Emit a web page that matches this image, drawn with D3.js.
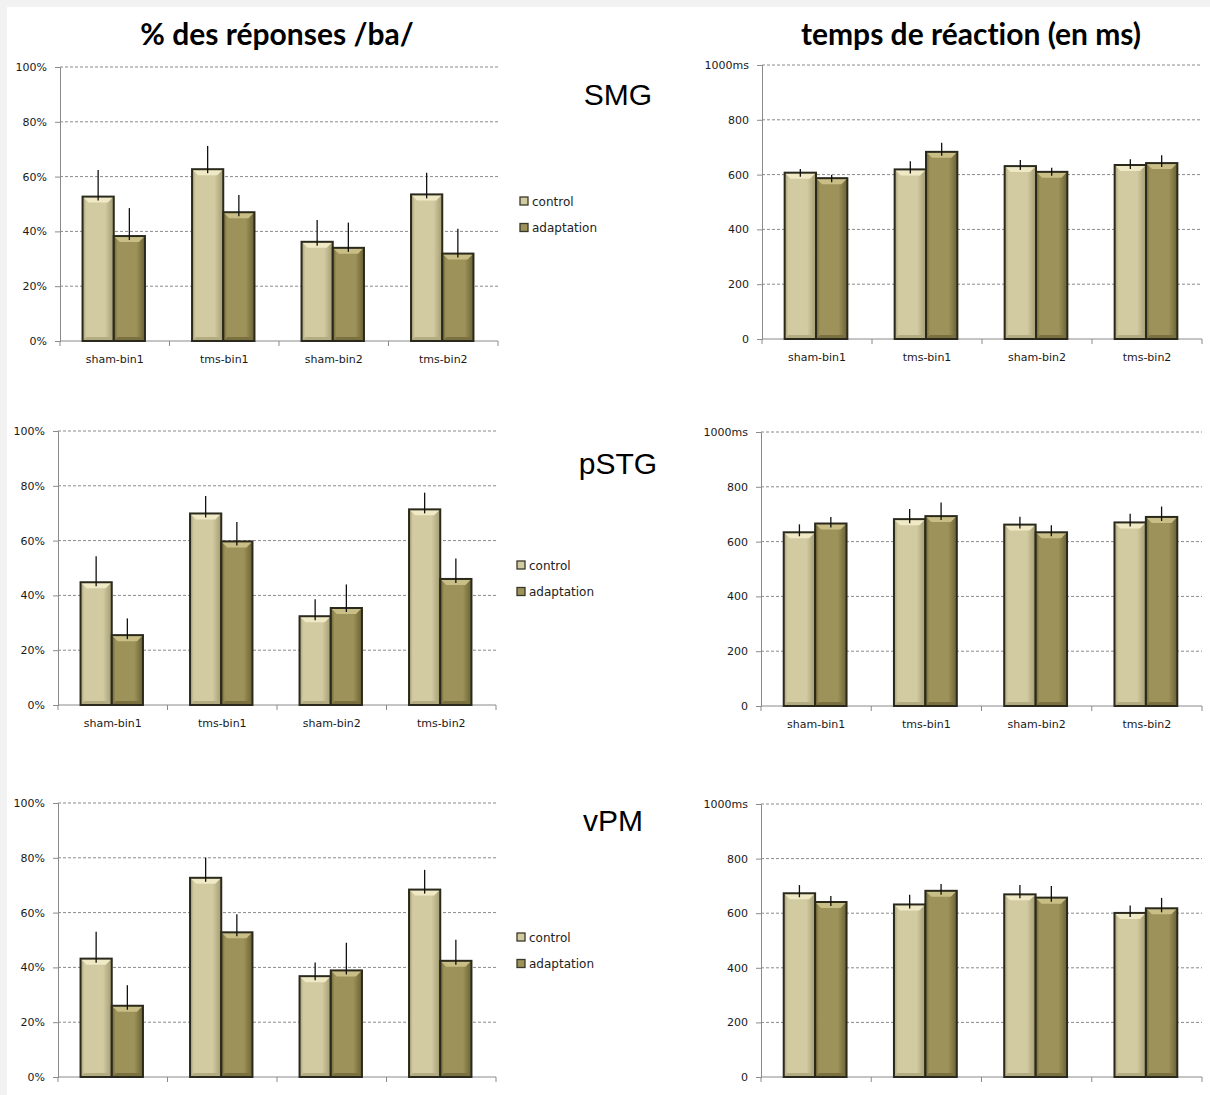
<!DOCTYPE html>
<html lang="fr">
<head>
<meta charset="UTF-8">
<title>TMS</title>
<script src="https://d3js.org/d3.v7.min.js"></script>
<style>
  html, body { margin: 0; padding: 0; background: #fff; }
  svg { display: block; }
</style>
</head>
<body>
<div id="chart"></div>
<script>
// categories and series
const categories = ["sham-bin1", "tms-bin1", "sham-bin2", "tms-bin2"];
const seriesNames = ["control", "adaptation"];
const regions = ["SMG", "pSTG", "vPM"];

// % des réponses /ba/ (value, error bar length)
const smgPctControl = [52.7, 62.7, 36.2, 53.5];
const smgPctControlErr = [9.7, 8.5, 8.0, 7.9];
const smgPctAdapt = [38.3, 47.0, 34.0, 31.9];
const smgPctAdaptErr = [10.2, 6.3, 9.2, 9.1];

const pstgPctControl = [44.8, 69.9, 32.4, 71.4];
const pstgPctControlErr = [9.5, 6.4, 6.2, 6.1];
const pstgPctAdapt = [25.5, 59.7, 35.4, 46.0];
const pstgPctAdaptErr = [6.1, 7.1, 8.6, 7.5];

const vpmPctControl = [43.2, 72.7, 36.8, 68.4];
const vpmPctControlErr = [9.8, 7.4, 5.0, 7.2];
const vpmPctAdapt = [26.0, 52.8, 38.9, 42.4];
const vpmPctAdaptErr = [7.5, 6.6, 10.1, 7.7];

// temps de réaction (ms)
const smgMsControl = [607, 619, 631, 635];
const smgMsControlErr = [13, 30, 22, 21];
const smgMsAdapt = [587, 683, 610, 642];
const smgMsAdaptErr = [12, 33, 15, 29];

const pstgMsControl = [634, 682, 662, 670];
const pstgMsControlErr = [29, 37, 29, 32];
const pstgMsAdapt = [666, 693, 634, 690];
const pstgMsAdaptErr = [24, 50, 26, 38];

const vpmMsControl = [673, 632, 669, 601];
const vpmMsControlErr = [30, 36, 34, 27];
const vpmMsAdapt = [641, 682, 657, 618];
const vpmMsAdaptErr = [22, 25, 43, 38];

const pctTicks = [0, 20, 40, 60, 80, 100];
const msTicks = [0, 200, 400, 600, 800, 1000];

const W = 1210, H = 1095;
const svg = d3.select("#chart").append("svg").attr("width", W).attr("height", H);

// light grey frame on top / left
svg.append("rect").attr("x", 0).attr("y", 0).attr("width", W).attr("height", H).attr("fill", "#f2f2f2");
svg.append("rect").attr("x", 7).attr("y", 7).attr("width", W - 7).attr("height", H - 7).attr("fill", "#fff");

const defs = svg.append("defs");
const colors = {
  control: { light: "#efe9c6", main: "#d2caa0", dark: "#a39b72", bottom: "#b3ab82" },
  adaptation: { light: "#c9be85", main: "#9d9259", dark: "#6a6234", bottom: "#7a7040" }
};
seriesNames.forEach(s => {
  const c = colors[s];
  const g = defs.append("linearGradient").attr("id", "grad-" + s)
    .attr("x1", "0%").attr("y1", "0%").attr("x2", "100%").attr("y2", "0%");
  g.append("stop").attr("offset", "0%").attr("stop-color", c.dark);
  g.append("stop").attr("offset", "12%").attr("stop-color", c.main);
  g.append("stop").attr("offset", "72%").attr("stop-color", c.main);
  g.append("stop").attr("offset", "100%").attr("stop-color", c.dark);
});

// titles
svg.append("text").attr("x", 277).attr("y", 45).attr("text-anchor", "middle")
  .attr("font-family", "Lato, 'Open Sans', sans-serif").attr("font-weight", "bold")
  .attr("font-size", 30).style("font-variant-ligatures", "none")
  .attr("fill", "#000").text("% des réponses /ba/");
svg.append("text").attr("x", 971).attr("y", 45).attr("text-anchor", "middle")
  .attr("font-family", "Lato, 'Open Sans', sans-serif").attr("font-weight", "bold")
  .attr("font-size", 30).style("font-variant-ligatures", "none")
  .attr("fill", "#000").text("temps de réaction (en ms)");

const panels = [
  { left: 60, right: 498, top: 67, bottom: 341, ticks: pctTicks, fmt: d => d + "%", max: 100,
    ctrl: smgPctControl, ctrlErr: smgPctControlErr, adapt: smgPctAdapt, adaptErr: smgPctAdaptErr,
    labels: true, legend: [520, 201], region: [618, 105] },
  { left: 762, right: 1202, top: 65, bottom: 339, ticks: msTicks, fmt: d => d === 1000 ? "1000ms" : d, max: 1000,
    ctrl: smgMsControl, ctrlErr: smgMsControlErr, adapt: smgMsAdapt, adaptErr: smgMsAdaptErr,
    labels: true },
  { left: 58, right: 496, top: 431, bottom: 705, ticks: pctTicks, fmt: d => d + "%", max: 100,
    ctrl: pstgPctControl, ctrlErr: pstgPctControlErr, adapt: pstgPctAdapt, adaptErr: pstgPctAdaptErr,
    labels: true, legend: [517, 565], region: [618, 474] },
  { left: 761, right: 1202, top: 432, bottom: 706, ticks: msTicks, fmt: d => d === 1000 ? "1000ms" : d, max: 1000,
    ctrl: pstgMsControl, ctrlErr: pstgMsControlErr, adapt: pstgMsAdapt, adaptErr: pstgMsAdaptErr,
    labels: true },
  { left: 58, right: 496, top: 803, bottom: 1077, ticks: pctTicks, fmt: d => d + "%", max: 100,
    ctrl: vpmPctControl, ctrlErr: vpmPctControlErr, adapt: vpmPctAdapt, adaptErr: vpmPctAdaptErr,
    labels: false, legend: [517, 937], region: [613, 831] },
  { left: 761, right: 1202, top: 804, bottom: 1077, ticks: msTicks, fmt: d => d === 1000 ? "1000ms" : d, max: 1000,
    ctrl: vpmMsControl, ctrlErr: vpmMsControlErr, adapt: vpmMsAdapt, adaptErr: vpmMsAdaptErr,
    labels: false }
];

const regionLabels = [regions[0], null, regions[1], null, regions[2], null];

panels.forEach((p, pi) => {
  const g = svg.append("g");
  const x0 = d3.scaleBand().domain(categories).range([p.left, p.right]);
  const groupW = x0.bandwidth() * 0.57;
  const x1 = d3.scaleBand().domain(seriesNames).range([0, groupW]);
  const y = d3.scaleLinear().domain([0, p.max]).range([p.bottom, p.top]);

  // dashed grid
  g.selectAll(".grid").data(p.ticks.filter(t => t > 0)).enter().append("line")
    .attr("x1", p.left).attr("x2", p.right)
    .attr("y1", d => y(d)).attr("y2", d => y(d))
    .attr("stroke", "#8a8a8a").attr("stroke-width", 1).attr("stroke-dasharray", "3,2");

  // y axis
  const yAxis = g.append("g").attr("transform", "translate(" + p.left + ",0)")
    .call(d3.axisLeft(y).tickValues(p.ticks).tickFormat(p.fmt).tickSize(5).tickPadding(8));
  yAxis.select(".domain").attr("stroke", "#8a8a8a");
  yAxis.selectAll(".tick line").attr("stroke", "#8a8a8a");
  yAxis.selectAll("text").attr("font-family", "'DejaVu Sans', Verdana, sans-serif")
    .attr("font-size", 11).attr("fill", "#1a1a1a");

  // x axis
  const xAxis = g.append("g").attr("transform", "translate(0," + p.bottom + ")")
    .call(d3.axisBottom(x0).tickSize(0).tickPadding(14));
  xAxis.select(".domain").attr("stroke", "#8a8a8a").attr("d", "M" + p.left + ",0H" + p.right);
  xAxis.selectAll("text").attr("font-family", "'DejaVu Sans', Verdana, sans-serif")
    .attr("font-size", 11).attr("fill", "#1a1a1a");
  if (!p.labels) xAxis.selectAll("text").remove();
  const bounds = categories.map(c => x0(c)).concat([p.right]);
  xAxis.selectAll(".btick").data(bounds).enter().append("line")
    .attr("x1", d => d).attr("x2", d => d).attr("y1", 0).attr("y2", 5)
    .attr("stroke", "#8a8a8a");

  // bars
  const rows = [];
  categories.forEach((c, i) => {
    rows.push({ cat: c, s: "control", v: p.ctrl[i], e: p.ctrlErr[i] });
    rows.push({ cat: c, s: "adaptation", v: p.adapt[i], e: p.adaptErr[i] });
  });
  const bx = d => x0(d.cat) + (x0.bandwidth() - groupW) / 2 - 1 + x1(d.s);
  const bw = x1.bandwidth();

  const bar = g.selectAll(".bar").data(rows).enter().append("g");
  bar.append("rect")
    .attr("x", bx).attr("y", d => y(d.v))
    .attr("width", bw).attr("height", d => p.bottom - y(d.v))
    .attr("fill", d => "url(#grad-" + d.s + ")");
  // top bevel
  bar.append("path")
    .attr("d", d => {
      const x = bx(d), t = y(d.v);
      return "M" + x + "," + t + "H" + (x + bw) + "L" + (x + bw - 6) + "," + (t + 6) + "H" + (x + 6) + "Z";
    })
    .attr("fill", d => colors[d.s].light);
  // bottom bevel
  bar.append("path")
    .attr("d", d => {
      const x = bx(d), b = p.bottom;
      return "M" + x + "," + b + "H" + (x + bw) + "L" + (x + bw - 4) + "," + (b - 4) + "H" + (x + 4) + "Z";
    })
    .attr("fill", d => colors[d.s].bottom);
  bar.append("rect")
    .attr("x", bx).attr("y", d => y(d.v))
    .attr("width", bw).attr("height", d => p.bottom - y(d.v))
    .attr("fill", "none").attr("stroke", "#2a291c").attr("stroke-width", 2);

  // error bars
  bar.append("line")
    .attr("x1", d => bx(d) + bw / 2).attr("x2", d => bx(d) + bw / 2)
    .attr("y1", d => y(d.v) + 4).attr("y2", d => y(d.v + d.e))
    .attr("stroke", "#111").attr("stroke-width", 1.3);

  // legend
  if (p.legend) {
    const lg = g.append("g").attr("transform", "translate(" + p.legend[0] + "," + p.legend[1] + ")");
    seriesNames.forEach((s, i) => {
      lg.append("rect").attr("x", 0).attr("y", i * 26.5 - 4).attr("width", 8).attr("height", 8)
        .attr("fill", colors[s].main).attr("stroke", "#3a3828").attr("stroke-width", 1.3);
      lg.append("text").attr("x", 12).attr("y", i * 26.5 + 4.5)
        .attr("font-family", "'DejaVu Sans', Verdana, sans-serif").attr("font-size", 12)
        .attr("fill", "#222").text(s);
    });
  }

  // region label
  if (p.region) {
    g.append("text").attr("x", p.region[0]).attr("y", p.region[1]).attr("text-anchor", "middle")
      .attr("font-family", "'Liberation Sans', Arial, sans-serif").attr("font-size", 30)
      .attr("fill", "#000").text(regionLabels[pi]);
  }
});
</script>
</body>
</html>
